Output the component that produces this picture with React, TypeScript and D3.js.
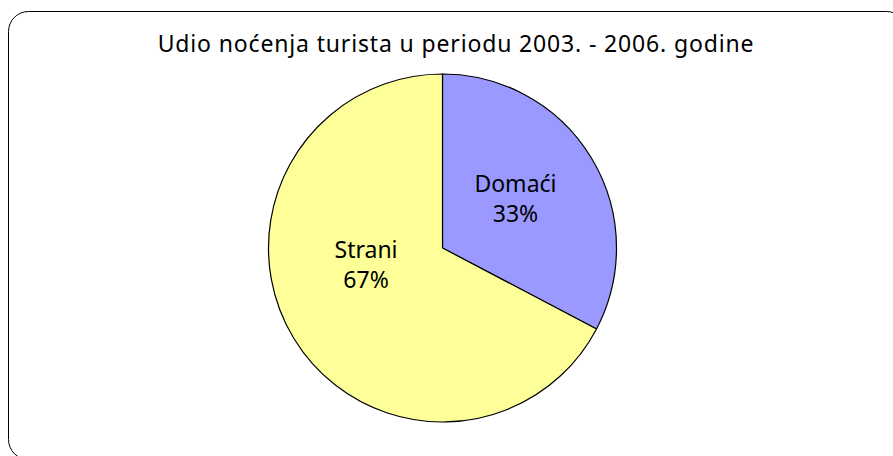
import React, { useRef, useEffect } from 'react';
import * as d3 from 'd3';

const categories = ['Domaći', 'Strani'];
const values = [32.7, 67.3];
const percentLabels = ['33%', '67%'];
const colors = ['#9999FF', '#FFFF99'];
const title = 'Udio noćenja turista u periodu 2003. - 2006. godine';

const App = () => {
  const svgRef = useRef<SVGSVGElement>(null);

  useEffect(() => {
    const width = 893;
    const height = 456;
    const svg = d3.select(svgRef.current);
    svg.selectAll('*').remove();
    svg.attr('width', width).attr('height', height)
      .style('position', 'absolute')
      .style('left', '0px')
      .style('top', '0px')
      .style('font-family', '"Noto Sans", Tahoma, sans-serif');

    // chart frame (runs off the right/bottom edge like the original)
    svg.append('rect')
      .attr('x', 8.5).attr('y', 11.5)
      .attr('width', 898).attr('height', 448)
      .attr('rx', 20).attr('ry', 20)
      .attr('fill', '#fff')
      .attr('stroke', '#000')
      .attr('stroke-width', 1);

    svg.append('text')
      .attr('x', 456)
      .attr('y', 52)
      .attr('text-anchor', 'middle')
      .style('font-size', '23px')
      .style('letter-spacing', '0.85px')
      .attr('fill', '#000')
      .text(title);

    const cx = 442.5;
    const cy = 248;
    const radius = 174;

    const data = categories.map((c, i) => ({ name: c, value: values[i], label: percentLabels[i], color: colors[i] }));
    const pie = d3.pie<any>().sort(null).value(d => d.value);
    const arcs = pie(data);
    const arc = d3.arc<any>().innerRadius(0).outerRadius(radius);

    const g = svg.append('g').attr('transform', `translate(${cx},${cy})`);
    g.selectAll('path')
      .data(arcs)
      .join('path')
      .attr('d', arc)
      .attr('fill', d => d.data.color)
      .attr('stroke', '#000')
      .attr('stroke-width', 1.2);

    // Excel-style label nudges relative to the slice centroid
    const nudge = [[-1.5, -11.4], [-2, -34.8]];
    const labelArc = d3.arc<any>().innerRadius(radius * 0.5).outerRadius(radius * 0.5);
    const lbl = g.selectAll('g.lbl')
      .data(arcs)
      .join('g')
      .attr('class', 'lbl')
      .attr('transform', (d, i) => {
        const [x, y] = labelArc.centroid(d);
        return `translate(${x + nudge[i][0]},${y + nudge[i][1]})`;
      });
    lbl.append('text')
      .attr('text-anchor', 'middle')
      .attr('y', 0)
      .style('font-size', '23px')
      .text(d => d.data.name);
    lbl.append('text')
      .attr('text-anchor', 'middle')
      .attr('y', 30)
      .style('font-size', '23px')
      .text(d => d.data.label);
  }, []);

  return <svg ref={svgRef}></svg>;
};

export default App;
